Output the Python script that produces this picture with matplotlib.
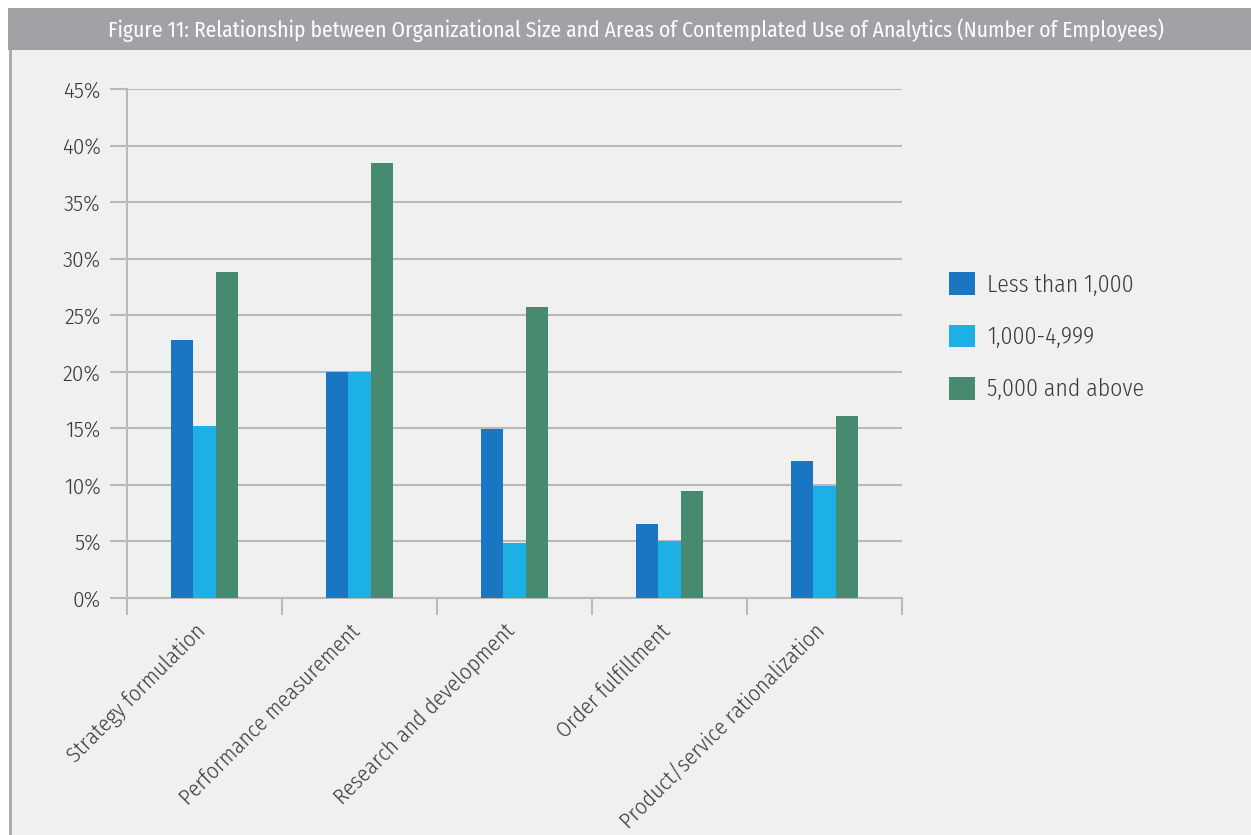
import matplotlib.pyplot as plt
import numpy as np
from matplotlib.patches import Rectangle
from matplotlib.lines import Line2D
from matplotlib.ticker import FuncFormatter
import matplotlib.transforms as mtransforms

categories = ["Strategy formulation", "Performance measurement", "Research and development",
              "Order fulfillment", "Product/service rationalization"]
series_names = ["Less than 1,000", "1,000-4,999", "5,000 and above"]
less_than_1000 = [22.8, 20.0, 14.9, 6.5, 12.1]
from_1000_to_4999 = [15.2, 20.0, 4.9, 5.0, 9.9]
above_5000 = [28.8, 38.5, 25.7, 9.5, 16.1]
title = "Figure 11: Relationship between Organizational Size and Areas of Contemplated Use of Analytics (Number of Employees)"

colors = ["#1a75c2", "#1db0e4", "#468a6f"]
bg = "#f0f0f0"
grid_col = "#b9b9b9"
text_col = "#3a3a3a"

plt.rcParams["font.family"] = ["Fira Sans Condensed", "Liberation Sans", "DejaVu Sans"]
plt.rcParams["font.weight"] = 300

W, H = 1251, 835
fig = plt.figure(figsize=(W / 100, H / 100), dpi=100)
fig.patch.set_facecolor("white")

# panel background, title bar and left border
fig.add_artist(Rectangle((9 / W, 0), 1, 1 - 50 / H, transform=fig.transFigure,
                         facecolor=bg, edgecolor="none", zorder=-3))
fig.add_artist(Rectangle((8 / W, 1 - 50 / H), 1, 42 / H, transform=fig.transFigure,
                         facecolor="#a2a1a6", edgecolor="none", zorder=-2))
fig.add_artist(Line2D([10 / W, 10 / W], [0, 1 - 50 / H], transform=fig.transFigure,
                      color="#a8a8a8", lw=2, zorder=-1))
fig.text(636 / W, 1 - 30 / H, title, color="white", fontsize=15.5, weight=400,
         ha="center", va="center")

ax = fig.add_axes([127 / W, 1 - 598 / H, 775 / W, 509 / H])
ax.set_facecolor(bg)

x = np.arange(len(categories))
width = 0.145
all_series = [less_than_1000, from_1000_to_4999, above_5000]
for i, (vals, name) in enumerate(zip(all_series, series_names)):
    ax.bar(x + (i - 1) * width, np.array(vals) / 100, width, color=colors[i],
           label=name, zorder=3)

ax.set_xlim(-0.5, len(categories) - 0.5)
ax.set_ylim(0, 0.45)
ax.set_yticks(np.arange(0, 0.451, 0.05))
ax.yaxis.set_major_formatter(FuncFormatter(lambda v, p: f"{v * 100:.0f}%"))
ax.grid(axis="y", color=grid_col, lw=1.5, zorder=0)

ax.set_xticks(np.arange(-0.5, len(categories), 1.0))
ax.set_xticklabels([])
ax.set_xticks(x, minor=True)
ax.set_xticklabels(categories, minor=True, rotation=45, ha="right",
                   rotation_mode="anchor", fontsize=16, color=text_col)
ax.tick_params(axis="x", which="minor", length=0, pad=16)
ax.tick_params(axis="x", which="major", length=12, color=grid_col, width=1.5)
ax.tick_params(axis="y", length=12, color=grid_col, width=1.5, labelsize=16.5,
               labelcolor=text_col, pad=7)
shift = mtransforms.ScaledTranslation(-10 / 100, 0, fig.dpi_scale_trans)
for lab in ax.get_xticklabels(minor=True):
    lab.set_transform(lab.get_transform() + shift)

for s in ["top", "right"]:
    ax.spines[s].set_visible(False)
for s in ["left", "bottom"]:
    ax.spines[s].set_color(grid_col)
    ax.spines[s].set_linewidth(1.5)

fig.legend(loc="upper left", bbox_to_anchor=(928 / W, 1 - 251 / H), frameon=False,
           handlelength=1.1, handleheight=1.1, labelspacing=1.2, handletextpad=0.5,
           prop={"size": 17, "weight": 300}, labelcolor=text_col)

fig.savefig("out.png", dpi=100, facecolor=fig.get_facecolor())
